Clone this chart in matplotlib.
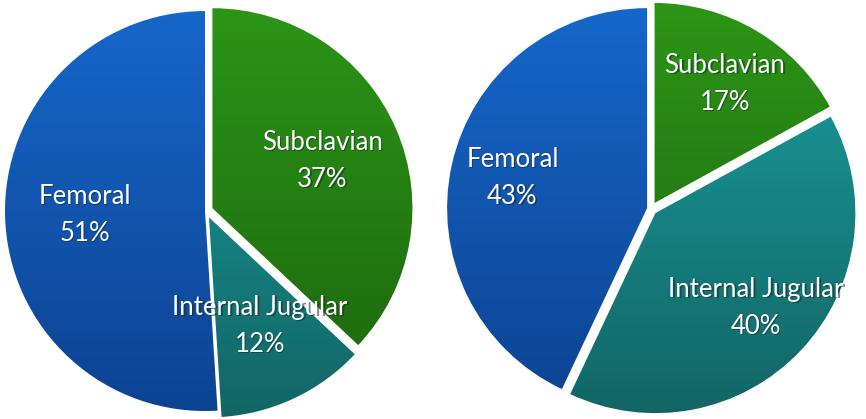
import matplotlib.pyplot as plt
import numpy as np
from matplotlib.colors import LinearSegmentedColormap

# data
labels = ['Subclavian', 'Internal Jugular', 'Femoral']
left_pct = [37, 12, 51]
right_pct = [17, 40, 43]

# gradient colours (top, bottom) per slice
grad = {
    'Subclavian': ('#2c9616', '#1c640e'),
    'Internal Jugular': ('#1ba0a0', '#126464'),
    'Femoral': ('#1668cc', '#0c4290'),
}

W, H = 866, 419
fig = plt.figure(figsize=(W / 100, H / 100), dpi=100)
ax = fig.add_axes([0, 0, 1, 1])


def draw_pie(values, center, radius, explode, label_r):
    cx, cy = center
    # explode in pie() is in data units, here pixels
    wedges, _ = ax.pie(values, center=center, radius=radius, startangle=90,
                       counterclock=False, explode=explode,
                       wedgeprops=dict(linewidth=0))
    for w, name, v in zip(wedges, labels, values):
        top, bottom = grad[name]
        cmap = LinearSegmentedColormap.from_list(name, [top, bottom])
        g = np.linspace(0, 1, 256).reshape(-1, 1)
        im = ax.imshow(g, cmap=cmap, aspect='auto', origin='upper',
                       extent=(cx - radius - 15, cx + radius + 15,
                               cy - radius - 15, cy + radius + 15),
                       zorder=1)
        im.set_clip_path(w)
        w.set_facecolor('none')
        # label at mid angle
        mid = np.deg2rad((w.theta1 + w.theta2) / 2)
        wx, wy = w.center
        tx = wx + label_r * radius * np.cos(mid)
        ty = wy + label_r * radius * np.sin(mid)
        for dx, dy, col in [(1.3, -1.3, '#1a2a2a'), (0, 0, 'white')]:
            ax.text(tx + dx, ty + dy, f'{name}\n{v}%', color=col,
                    ha='center', va='center', fontsize=18.5,
                    family='Lato', linespacing=1.6, zorder=3,
                    alpha=0.55 if col != 'white' else 1)


draw_pie(left_pct, (206, 208), 200, [7, 7, 1], 0.6)
draw_pie(right_pct, (651, 210), 200, [7, 6, 4], 0.69)

ax.set_xlim(0, W)
ax.set_ylim(0, H)
ax.set_aspect('equal')
ax.axis('off')

fig.savefig('out.png', dpi=100, facecolor='white')
